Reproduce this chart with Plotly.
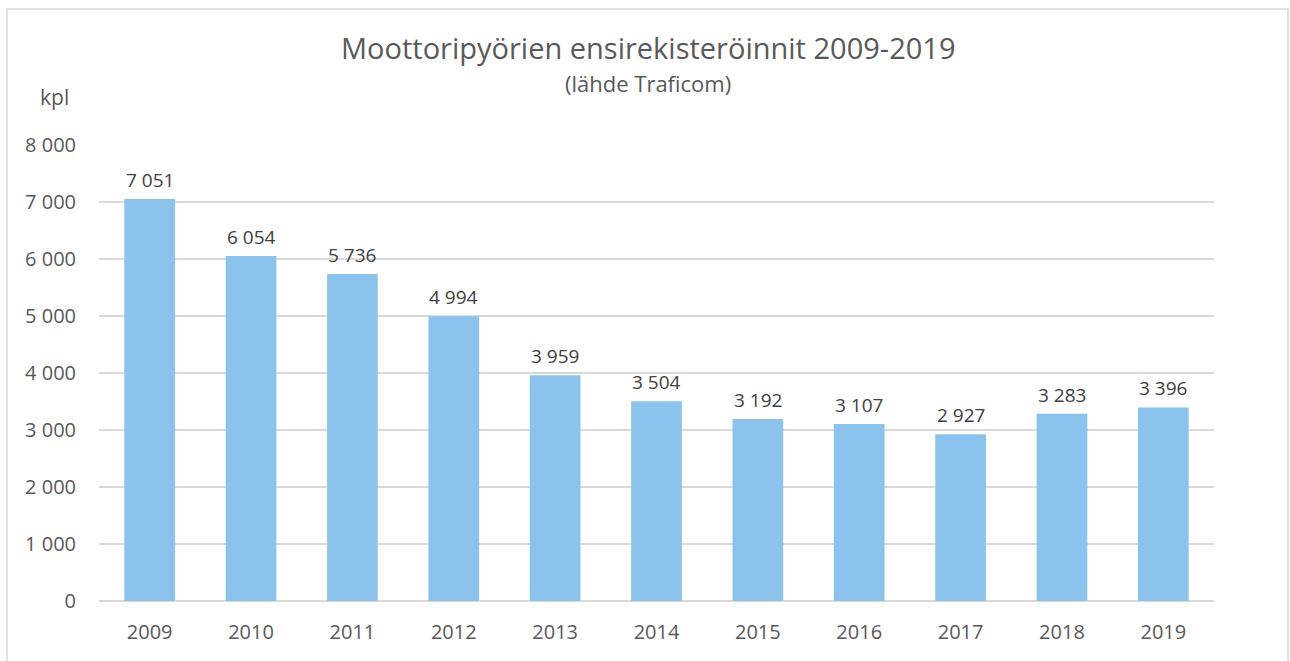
import plotly.graph_objects as go

years = ["2009", "2010", "2011", "2012", "2013", "2014", "2015", "2016", "2017", "2018", "2019"]
registrations = [7051, 6054, 5736, 4994, 3959, 3504, 3192, 3107, 2927, 3283, 3396]
y_ticks = [0, 1000, 2000, 3000, 4000, 5000, 6000, 7000, 8000]

W, H = 1290, 661
L, R, T, B = 99, 1214, 145, 601

def px(x):
    return (x - L) / (R - L)

def py(y):
    return (B - y) / (B - T)

FONT = "Open Sans, Liberation Sans, sans-serif"
TXT = "#595959"

fig = go.Figure(go.Bar(
    x=years, y=registrations,
    marker=dict(color="#8CC3EC", line=dict(width=0)),
    width=0.5,
    hoverinfo="x+y",
))

label_annotations = [
    dict(x=i, y=v, xref="x", yref="y", text=f"{v:,}".replace(",", " "),
         showarrow=False, xanchor="center", yanchor="middle", yshift=19,
         font=dict(size=19, color="#404040"))
    for i, v in enumerate(registrations)
]

fig.update_layout(
    width=W, height=H,
    margin=dict(l=L, r=W - R, t=T, b=H - B),
    paper_bgcolor="white", plot_bgcolor="white",
    separators=", ",
    showlegend=False,
    font=dict(family=FONT, color=TXT),
    xaxis=dict(
        type="category", categoryorder="array", categoryarray=years,
        range=[-0.5, len(years) - 0.5],
        tickfont=dict(size=20, color=TXT), showgrid=False, showline=False,
        ticks="", ticklabelstandoff=17,
    ),
    yaxis=dict(
        range=[0, 8000], tickvals=y_ticks, tickformat=",d",
        tickfont=dict(size=20, color=TXT), gridcolor="#D9D9D9", gridwidth=1.5,
        zeroline=True, zerolinecolor="#D9D9D9", zerolinewidth=1.5,
        showline=False, ticks="", ticklabelstandoff=22,
    ),
    shapes=[dict(
        type="rect", xref="paper", yref="paper",
        x0=px(7), x1=px(1288), y0=py(665), y1=py(9),
        line=dict(color="#D9D9D9", width=1.5), fillcolor="rgba(0,0,0,0)", layer="below",
    )],
    annotations=label_annotations + [
        dict(text="Moottoripyörien ensirekisteröinnit 2009-2019", x=px(648), y=py(47),
             xref="paper", yref="paper", showarrow=False, xanchor="center", yanchor="middle",
             font=dict(size=29, color=TXT)),
        dict(text="(lähde Traficom)", x=px(648), y=py(83),
             xref="paper", yref="paper", showarrow=False, xanchor="center", yanchor="middle",
             font=dict(size=22, color=TXT)),
        dict(text="kpl", x=px(54), y=py(97),
             xref="paper", yref="paper", showarrow=False, xanchor="center", yanchor="middle",
             font=dict(size=21, color=TXT)),
    ],
)

fig.write_html(
    "out.html",
    config={"displayModeBar": False},
    post_script="document.body.style.margin='0';document.body.style.overflow='hidden';",
)
